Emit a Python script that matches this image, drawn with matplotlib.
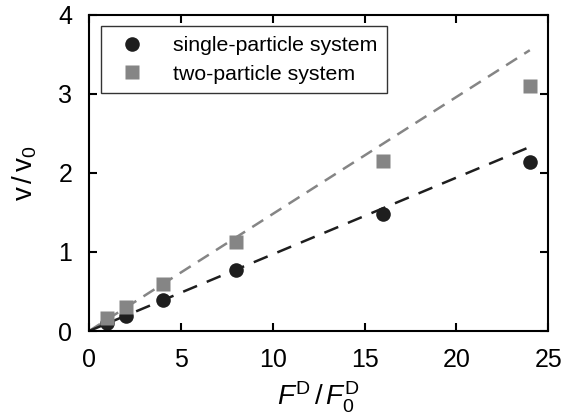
import matplotlib
matplotlib.use("Agg")
import matplotlib.pyplot as plt
import numpy as np

plt.rcParams["font.family"] = ["Liberation Sans", "DejaVu Sans"]
plt.rcParams["mathtext.fontset"] = "custom"
plt.rcParams["mathtext.rm"] = "Liberation Sans"
plt.rcParams["mathtext.it"] = "Liberation Sans:italic"

force = [1, 2, 4, 8, 16, 24]
v_single = [0.10, 0.19, 0.39, 0.77, 1.48, 2.14]
v_two = [0.16, 0.30, 0.60, 1.13, 2.15, 3.10]
fit_x = [0, 24]
slope_single = 0.097
slope_two = 0.148

fig = plt.figure(figsize=(5.71, 4.15), dpi=100)
ax = fig.add_axes([0.156, 0.2024, 0.804, 0.762])

fx = np.array(fit_x)
ax.plot(fx, slope_two * fx, ls=(0, (5.2, 3.4)), c="#858585", lw=1.8)
ax.plot(fx, slope_single * fx, ls=(0, (6, 4.2)), c="#1e1e1e", lw=1.8)
ax.plot(force, v_single, "o", c="#1e1e1e", ms=10.5, mec="none",
        label="single-particle system")
ax.plot(force, v_two, "s", c="#858585", ms=9.5, mec="none",
        label="two-particle system")

ax.set_xlim(0, 25)
ax.set_ylim(0, 4)
ax.set_xticks([0, 5, 10, 15, 20, 25])
ax.set_yticks([0, 1, 2, 3, 4])
ax.tick_params(direction="in", top=True, right=True, length=6, width=1.5,
               labelsize=18, pad=12)
for s in ax.spines.values():
    s.set_linewidth(1.5)
ax.set_xlabel(r"$F^{\mathrm{D}}\,/\,F^{\mathrm{D}}_0$", fontsize=20, labelpad=6)
ax.set_ylabel(r"$\mathrm{v}\,/\,\mathrm{v}_0$", fontsize=20, labelpad=14)

leg = ax.legend(loc="upper left", fontsize=15.3, frameon=True, fancybox=False,
                edgecolor="black", borderpad=0.45, handletextpad=0.95,
                borderaxespad=0.55, numpoints=1, labelspacing=0.45)
leg.get_frame().set_linewidth(1.0)

fig.savefig("out.png", dpi=100)
